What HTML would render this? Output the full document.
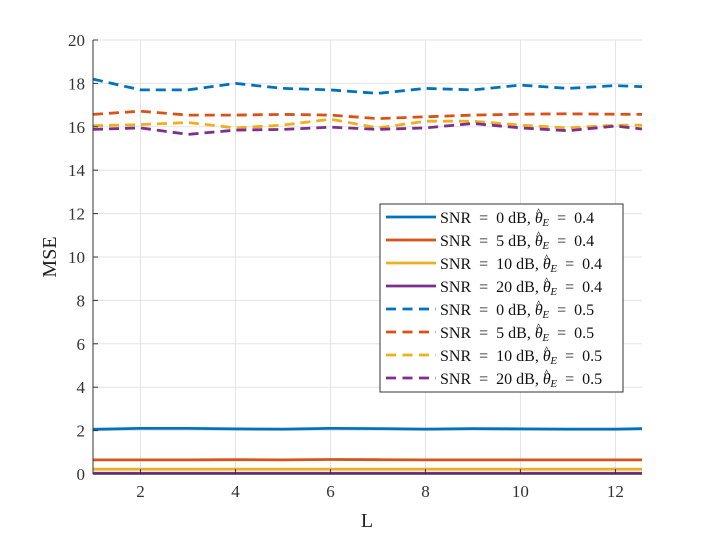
<!DOCTYPE html>
<html><head><meta charset="utf-8"><style>
html,body{margin:0;padding:0;background:#fff;}
svg{display:block;font-family:"Liberation Serif",serif;}
</style></head><body>
<svg id="chart" width="710" height="533" viewBox="0 0 710 533" xmlns="http://www.w3.org/2000/svg">
<rect width="710" height="533" fill="#fff"/>
<g id="grid"></g>
<g id="series"></g>
<g id="axes"></g>
<text x="367" y="527" font-size="20" text-anchor="middle" fill="#222">L</text>
<text transform="translate(56,257) rotate(-90)" font-size="20" text-anchor="middle" fill="#222">MSE</text>
<g id="legend"></g>
</svg>
<script>
const xVals = [1,2,3,4,5,6,7,8,9,10,11,12,12.56];
const blue04 = [2.06,2.1,2.1,2.08,2.07,2.1,2.09,2.07,2.09,2.08,2.07,2.07,2.09];
const orange04 = [0.65,0.65,0.65,0.66,0.65,0.67,0.66,0.65,0.65,0.65,0.65,0.65,0.65];
const yellow04 = [0.22,0.22,0.22,0.22,0.22,0.22,0.22,0.22,0.22,0.22,0.22,0.22,0.22];
const purple04 = [0.03,0.03,0.03,0.03,0.03,0.03,0.03,0.03,0.03,0.03,0.03,0.03,0.03];
const blue05 = [18.2,17.7,17.7,18.0,17.77,17.7,17.54,17.77,17.7,17.92,17.77,17.9,17.85];
const orange05 = [16.57,16.72,16.54,16.54,16.57,16.54,16.38,16.46,16.54,16.58,16.6,16.58,16.57];
const yellow05 = [16.05,16.1,16.2,15.95,16.08,16.35,15.95,16.26,16.26,16.08,15.95,16.08,16.08];
const purple05 = [15.88,15.95,15.65,15.85,15.88,15.98,15.88,15.95,16.15,15.95,15.82,16.03,15.9];
const xTicks = [2,4,6,8,10,12];
const yTicks = [0,2,4,6,8,10,12,14,16,18,20];
const legendLabels = ["0","5","10","20","0","5","10","20"];
const legendTheta = ["0.4","0.4","0.4","0.4","0.5","0.5","0.5","0.5"];

const L=93,R=642,T=40,B=474,X0=1,X1=12.56,Y0=0,Y1=20;
const sx=v=>L+(v-X0)/(X1-X0)*(R-L);
const sy=v=>B-(v-Y0)/(Y1-Y0)*(B-T);
const NS="http://www.w3.org/2000/svg";
function mk(tag,attrs,parent){const e=document.createElementNS(NS,tag);for(const k in attrs)e.setAttribute(k,attrs[k]);parent.appendChild(e);return e;}
const grid=document.getElementById('grid'),axes=document.getElementById('axes'),ser=document.getElementById('series'),leg=document.getElementById('legend');
xTicks.forEach(t=>{
  const g=mk('line',{x1:sx(t),x2:sx(t),y1:T,y2:B,stroke:'#e3e3e3','stroke-width':1},grid);
  
  
  const tk=mk('line',{x1:sx(t),x2:sx(t),y1:B,y2:B-5,stroke:'#333','stroke-width':1},axes);
  
  
  const tx=mk('text',{x:sx(t),y:B+23,'font-size':17,'text-anchor':'middle',fill:'#333'},axes);
  tx.textContent=t;
  
  
});
yTicks.forEach(t=>{
  const g=mk('line',{x1:L,x2:R,y1:sy(t),y2:sy(t),stroke:'#e3e3e3','stroke-width':1},grid);
  
  
  const tk=mk('line',{x1:L,x2:L+5,y1:sy(t),y2:sy(t),stroke:'#333','stroke-width':1},axes);
  
  
  const tx=mk('text',{x:L-8,y:sy(t)+6,'font-size':17,'text-anchor':'end',fill:'#333'},axes);
  tx.textContent=t;
  
  
});
const a1=mk('line',{x1:L,x2:L,y1:T,y2:B,stroke:'#333','stroke-width':1},axes);


const a2=mk('line',{x1:L,x2:R,y1:B,y2:B,stroke:'#333','stroke-width':1},axes);


const colors=['#0072BD','#D95319','#EDB120','#7E2F8E'];
const all=[blue04,orange04,yellow04,purple04,blue05,orange05,yellow05,purple05];
const names=['snr0-theta04','snr5-theta04','snr10-theta04','snr20-theta04','snr0-theta05','snr5-theta05','snr10-theta05','snr20-theta05'];
all.forEach((d,i)=>{
  const pts=d.map((v,j)=>sx(xVals[j]).toFixed(1)+','+sy(v).toFixed(1)).join(' ');
  const p=mk('polyline',{points:pts,fill:'none',stroke:colors[i%4],'stroke-width':2.8,'stroke-linejoin':'round'},ser);
  if(i>=4)p.setAttribute('stroke-dasharray','10,6');
  
  
});
const lb=mk('rect',{x:380,y:204,width:243,height:188,fill:'#fff',stroke:'#333','stroke-width':1},leg);


legendLabels.forEach((s,i)=>{
  const y=217+i*23;
  const g=mk('g',{},leg);
  
  
  const ln=mk('line',{x1:386,x2:436,y1:y,y2:y,stroke:colors[i%4],'stroke-width':2.8},g);
  if(i>=4)ln.setAttribute('stroke-dasharray','10,6.5');
  const t=mk('text',{x:440,y:y+6,'font-size':16,fill:'#111'},g);
  t.innerHTML='SNR\u00a0\u00a0=\u00a0\u00a0'+s+'\u00a0dB,\u00a0<tspan font-style="italic">θ</tspan><tspan font-size="12" dx="-7" dy="-7">^</tspan><tspan font-style="italic" font-size="11" dx="1" dy="10">E</tspan><tspan dy="-3">\u00a0\u00a0=\u00a0\u00a0'+legendTheta[i]+'</tspan>';
});
</script>
</body></html>
